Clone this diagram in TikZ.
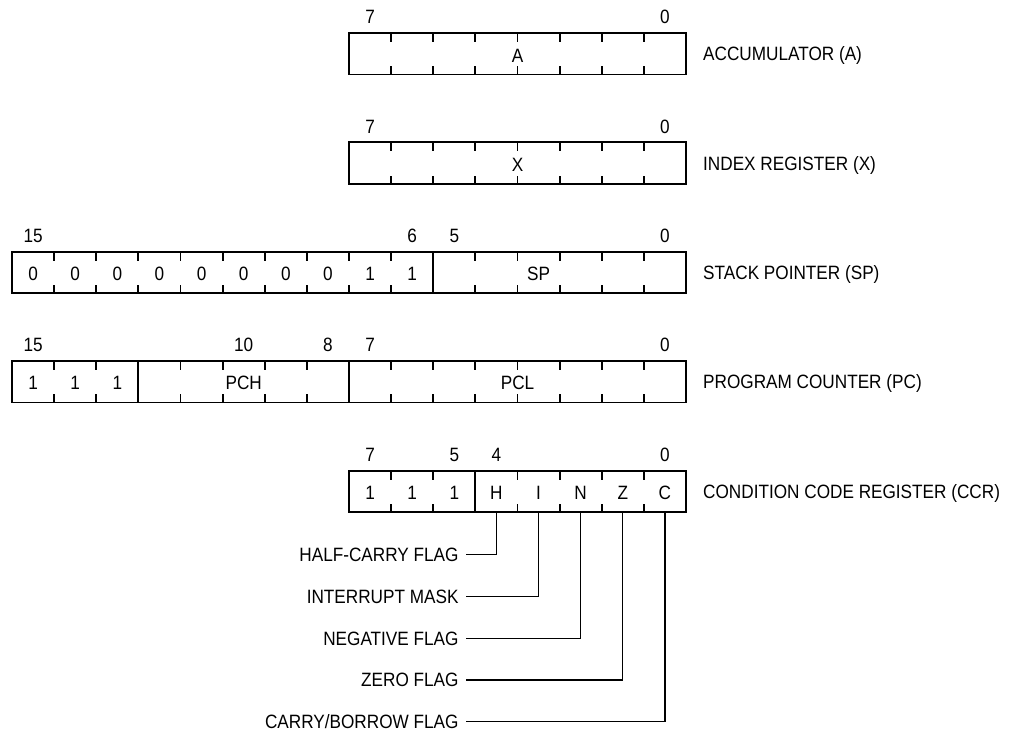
\documentclass[tikz,border=0pt]{standalone}
\usepackage{fontspec}
\setmainfont{Liberation Sans}[FakeStretch=0.89]
\usetikzlibrary{calc}

% left edge and centre of bit #1 (16 bit grid)
\newcommand{\bitx}[1]{{12+(15-(#1))*42.125}}
\newcommand{\bitc}[1]{{33.06+(15-(#1))*42.125}}

\tikzset{
  reg/.style={line width=1.8pt},
  lbl/.style={inner sep=0pt, text height=13.8pt, text depth=0pt, font=\fontsize{19.3}{23}\selectfont},
  regname/.style={lbl, anchor=west},
  flagname/.style={lbl, anchor=east, outer sep=7.5pt},
  flagline/.style={line width=1.2pt},
}

\begin{document}
\begin{tikzpicture}[x=1pt,y=-1pt]
    \useasboundingbox (0,0) rectangle (1016,735);
    \def\ya{33} \def\yx{142.3} \def\ysp{251.7} \def\ypc{360.9} \def\yccr{470.7}
    \def\bh{41.5}

    % accumulator
    \draw[reg] (\bitx{7},\ya) rectangle (\bitx{-1},\ya+\bh);
    \foreach \b in {6,...,0}
        \draw[reg] (\bitx{\b},\ya) -- ++(0,9) (\bitx{\b},\ya+\bh) -- ++(0,-8);
    \node[lbl] (accseven) at (\bitc{7},\ya-16) {7};
    \node[lbl] (acczero) at (\bitc{0},\ya-16) {0};
    \node[lbl] (acctext) at (\bitx{3},\ya+22.5) {A};
    \node[regname] (accname) at (703,\ya+21) {ACCUMULATOR (A)};

    % index register
    \draw[reg] (\bitx{7},\yx) rectangle (\bitx{-1},\yx+\bh);
    \foreach \b in {6,...,0}
        \draw[reg] (\bitx{\b},\yx) -- ++(0,9) (\bitx{\b},\yx+\bh) -- ++(0,-8);
    \node[lbl] (idxseven) at (\bitc{7},\yx-16) {7};
    \node[lbl] (idxzero) at (\bitc{0},\yx-16) {0};
    \node[lbl] (idxtext) at (\bitx{3},\yx+22.5) {X};
    \node[regname] (idxname) at (703,\yx+21) {INDEX REGISTER (X)};

    % stack pointer
    \draw[reg] (\bitx{15},\ysp) rectangle (\bitx{-1},\ysp+\bh);
    \draw[reg] (\bitx{5},\ysp) -- ++(0,\bh);
    \foreach \b in {14,13,12,11,10,9,8,7,6,4,3,2,1,0}
        \draw[reg] (\bitx{\b},\ysp) -- ++(0,9) (\bitx{\b},\ysp+\bh) -- ++(0,-8);
    \foreach \b/\v in {15/0,14/0,13/0,12/0,11/0,10/0,9/0,8/0,7/1,6/1}
        \node[lbl] (sp\b) at (\bitc{\b},\ysp+21.5) {\v};
    \foreach \b in {15,6,5,0}
        \node[lbl] (spnum\b) at (\bitc{\b},\ysp-16) {\b};
    \node[lbl] (sptext) at (\bitc{3},\ysp+21.5) {SP};
    \node[regname] (spname) at (703,\ysp+21) {STACK POINTER (SP)};

    % program counter
    \draw[reg] (\bitx{15},\ypc) rectangle (\bitx{-1},\ypc+\bh);
    \draw[reg] (\bitx{12},\ypc) -- ++(0,\bh) (\bitx{7},\ypc) -- ++(0,\bh);
    \foreach \b in {14,13,11,10,9,8,6,5,4,3,2,1,0}
        \draw[reg] (\bitx{\b},\ypc) -- ++(0,9) (\bitx{\b},\ypc+\bh) -- ++(0,-8);
    \foreach \b in {15,14,13}
        \node[lbl] (pc\b) at (\bitc{\b},\ypc+21.5) {1};
    \foreach \b in {15,10,8,7,0}
        \node[lbl] (pcnum\b) at (\bitc{\b},\ypc-16) {\b};
    \node[lbl] (pchtext) at (\bitc{10},\ypc+21.5) {PCH};
    \node[lbl] (pcltext) at (\bitx{3},\ypc+21.5) {PCL};
    \node[regname] (pcname) at (703,\ypc+21) {PROGRAM COUNTER (PC)};

    % condition code register
    \draw[reg] (\bitx{7},\yccr) rectangle (\bitx{-1},\yccr+\bh);
    \draw[reg] (\bitx{4},\yccr) -- ++(0,\bh);
    \foreach \b in {6,5,3,2,1,0}
        \draw[reg] (\bitx{\b},\yccr) -- ++(0,9) (\bitx{\b},\yccr+\bh) -- ++(0,-8);
    \foreach \b/\v in {7/1,6/1,5/1,4/H,3/I,2/N,1/Z,0/C}
        \node[lbl] (ccr\b) at (\bitc{\b},\yccr+21.5) {\v};
    \foreach \b in {7,5,4,0}
        \node[lbl] (ccrnum\b) at (\bitc{\b},\yccr-16) {\b};
    \node[regname] (ccrname) at (703,\yccr+21) {CONDITION CODE REGISTER (CCR)};

    % flag call-outs
    \foreach \b/\k/\txt in {4/0/HALF-CARRY FLAG,3/1/INTERRUPT MASK,2/2/NEGATIVE FLAG,1/3/ZERO FLAG,0/4/{CARRY/BORROW FLAG}} {
        \coordinate (bit\b) at (\bitc{\b},\yccr+\bh);
        \node[flagname] (flag\b) at (466,554.5+41.8*\k) {\txt};
        \draw[flagline] (bit\b) |- (flag\b.east);
    }
\end{tikzpicture}
\end{document}
